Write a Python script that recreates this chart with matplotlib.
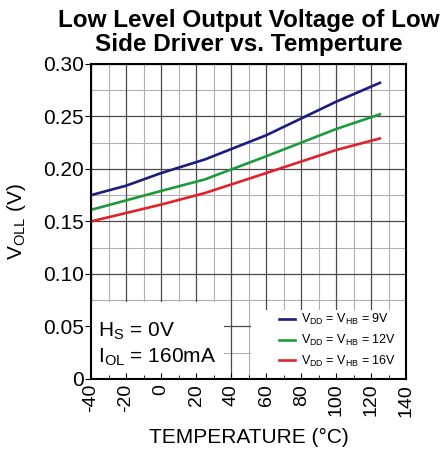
import numpy as np
import matplotlib
matplotlib.use('Agg')
import matplotlib.pyplot as plt
from matplotlib.patches import Rectangle
from matplotlib.ticker import FuncFormatter

plt.rcParams['font.family'] = 'Liberation Sans'
plt.rcParams['mathtext.fontset'] = 'custom'
plt.rcParams['mathtext.rm'] = 'Liberation Sans'
plt.rcParams['axes.unicode_minus'] = False

# Data
temp = [-40, -20, 0, 25, 60, 80, 100, 125]
v_9v = [0.175, 0.184, 0.196, 0.209, 0.232, 0.248, 0.264, 0.282]
v_12v = [0.161, 0.170, 0.179, 0.190, 0.212, 0.225, 0.238, 0.252]
v_16v = [0.150, 0.158, 0.166, 0.177, 0.196, 0.207, 0.218, 0.229]
labels = [r'V$_{\mathregular{DD}}$ = V$_{\mathregular{HB}}$ = 9V',
          r'V$_{\mathregular{DD}}$ = V$_{\mathregular{HB}}$ = 12V',
          r'V$_{\mathregular{DD}}$ = V$_{\mathregular{HB}}$ = 16V']
colors = ['#1c1c7e', '#1e9a3c', '#e0222c']

x_major = np.arange(-40, 141, 20)
x_minor = np.arange(-30, 140, 20)
y_major = np.arange(0, 0.301, 0.05)
y_minor = np.arange(0.025, 0.3, 0.05)

fig = plt.figure(figsize=(4.42, 4.5), dpi=100)
ax = fig.add_axes([0.206, 0.158, 0.713, 0.70])

# grid drawn by hand so the white boxes can sit over it but under the ticks
for x in x_minor:
    ax.axvline(x, color='#b0b0b0', lw=0.8, zorder=0.5)
for y in y_minor:
    ax.axhline(y, color='#b0b0b0', lw=0.8, zorder=0.5)
for x in x_major:
    ax.axvline(x, color='#4a4a4a', lw=0.9, zorder=0.6)
for y in y_major:
    ax.axhline(y, color='#4a4a4a', lw=0.9, zorder=0.6)

# white boxes behind annotation and legend
ax.add_patch(Rectangle((-40, 0), 76, 0.073, facecolor='white', edgecolor='none', zorder=0.8))
ax.add_patch(Rectangle((51.5, 0), 88.5, 0.066, facecolor='white', edgecolor='none', zorder=0.8))

for vals, c, lab in zip([v_9v, v_12v, v_16v], colors, labels):
    ax.plot(temp, vals, color=c, lw=1.9, label=lab, zorder=2)

ax.set_xlim(-40, 140)
ax.set_ylim(0, 0.30)
ax.set_xticks(x_major)
ax.set_xticks(np.arange(-40, 141, 10), minor=True)
ax.set_yticks(y_major)
ax.yaxis.set_major_formatter(FuncFormatter(lambda v, p: '0' if v == 0 else '%.2f' % v))
ax.tick_params(axis='x', which='major', labelsize=14, rotation=90, direction='in', length=4)
ax.tick_params(axis='x', which='minor', direction='in', length=3)
ax.tick_params(axis='y', which='major', labelsize=15, direction='out', length=4, pad=1)
for s in ax.spines.values():
    s.set_linewidth(1.5)
    s.set_zorder(3)

ax.set_xlabel('TEMPERATURE (°C)', fontsize=15, labelpad=8)
ax.set_ylabel(r'V$_{\mathregular{OLL}}$ (V)', fontsize=15, labelpad=11)
ax.set_title('Low Level Output Voltage of Low\nSide Driver vs. Temperture',
             fontsize=17.5, fontweight='bold', linespacing=1.05, pad=9)

ax.text(-36, 0.040, r'H$_{\mathregular{S}}$ = 0V', fontsize=15, zorder=3)
ax.text(-36, 0.016, r'I$_{\mathregular{OL}}$ = 160mA', fontsize=15, zorder=3)

ax.legend(loc='lower right', bbox_to_anchor=(1.0, 0.0), fontsize=9, frameon=False,
          handlelength=1.3, handletextpad=0.5, labelspacing=0.45, borderaxespad=0.4)

fig.savefig('out.png', dpi=100)
